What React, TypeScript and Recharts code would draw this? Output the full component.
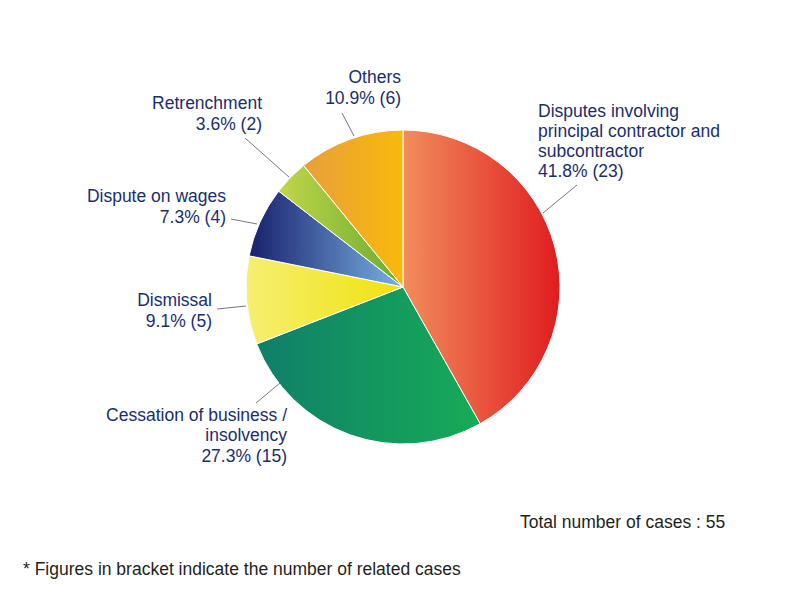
import React from "react";
import { PieChart, Pie, Cell } from "recharts";

// data
const categories = [
  "Disputes involving principal contractor and subcontractor",
  "Cessation of business / insolvency",
  "Dismissal",
  "Dispute on wages",
  "Retrenchment",
  "Others",
];
const caseCounts = [23, 15, 5, 4, 2, 6];
const labelLines = [
  ["Disputes involving", "principal contractor and", "subcontractor"],
  ["Cessation of business /", "insolvency"],
  ["Dismissal"],
  ["Dispute on wages"],
  ["Retrenchment"],
  ["Others"],
];

const total = caseCounts.reduce((a, b) => a + b, 0);
const chartData = categories.map((name, i) => ({ name, value: caseCounts[i] }));

// gradient stops, left -> right
const gradients = [
  ["#f18d5c", "#e01c1f"],
  ["#0f7f69", "#17ab57"],
  ["#f6ef72", "#efe20c"],
  ["#18206e", "#7ab2e2"],
  ["#c2d64a", "#68ad2e"],
  ["#e89f3c", "#f9b90c"],
];

// label placement relative to the pie centre
const labelLayout = [
  { from: [140, -74], to: [174, -102], x: 135, anchor: "start", ys: [-170, -150, -130, -110] },
  { from: [-123, 96], to: [-147, 116], x: -116, anchor: "end", ys: [134, 154, 175] },
  { from: [-157, 19], to: [-186, 22], x: -191, anchor: "end", ys: [19, 40] },
  { from: [-146, -63], to: [-172, -68], x: -177, anchor: "end", ys: [-85, -64] },
  { from: [-114, -110], to: [-158, -149], x: -141, anchor: "end", ys: [-178, -157] },
  { from: [-49, -151], to: [-61, -174], x: -2, anchor: "end", ys: [-204, -183] },
];

const FONT = '"Liberation Sans", Arial, Helvetica, sans-serif';
const LABEL_COLOR = "#1b2e6c";
const FS = 17.5;

const renderLabel = (props: any) => {
  const { cx, cy, index, value } = props;
  const l = labelLayout[index];
  const lines = [...labelLines[index], `${((value / total) * 100).toFixed(1)}% (${value})`];
  return (
    <g key={`lbl-${index}`}>
      <line
        x1={cx + l.from[0]}
        y1={cy + l.from[1]}
        x2={cx + l.to[0]}
        y2={cy + l.to[1]}
        stroke="#555"
        strokeWidth={0.8}
      />
      <text
        x={cx + l.x}
        y={cy + l.ys[0]}
        textAnchor={l.anchor}
        fill={LABEL_COLOR}
        fontSize={FS}
        fontFamily={FONT}
      >
        {lines.map((t, j) => (
          <tspan key={j} x={cx + l.x} dy={j === 0 ? 0 : l.ys[j] - l.ys[j - 1]}>
            {t}
          </tspan>
        ))}
      </text>
    </g>
  );
};

export default function App() {
  return (
    <div style={{ position: "absolute", left: 0, top: 0, width: 800, height: 608, background: "#fff" }}>
      <PieChart width={800} height={608} margin={{ top: 0, right: 0, bottom: 0, left: 0 }}>
        <defs>
          {gradients.map((g, i) => (
            <linearGradient key={i} id={`grad${i}`} x1="0" y1="0" x2="1" y2="0">
              <stop offset="0%" stopColor={g[0]} />
              <stop offset="100%" stopColor={g[1]} />
            </linearGradient>
          ))}
        </defs>
        <Pie
          data={chartData}
          dataKey="value"
          nameKey="name"
          cx={403}
          cy={287}
          outerRadius={157}
          startAngle={90}
          endAngle={-270}
          stroke="#fff"
          strokeWidth={1}
          label={renderLabel}
          labelLine={false}
          isAnimationActive={false}
        >
          {chartData.map((_, i) => (
            <Cell key={i} fill={`url(#grad${i})`} />
          ))}
        </Pie>
      </PieChart>
      <svg
        width={800}
        height={608}
        style={{ position: "absolute", left: 0, top: 0, pointerEvents: "none" }}
      >
        <text x={520} y={528} fontSize={FS} fontFamily={FONT} fill="#231f20">
          Total number of cases : {total}
        </text>
        <text x={23} y={575} fontSize={FS} fontFamily={FONT} fill="#231f20">
          * Figures in bracket indicate the number of related cases
        </text>
      </svg>
    </div>
  );
}
